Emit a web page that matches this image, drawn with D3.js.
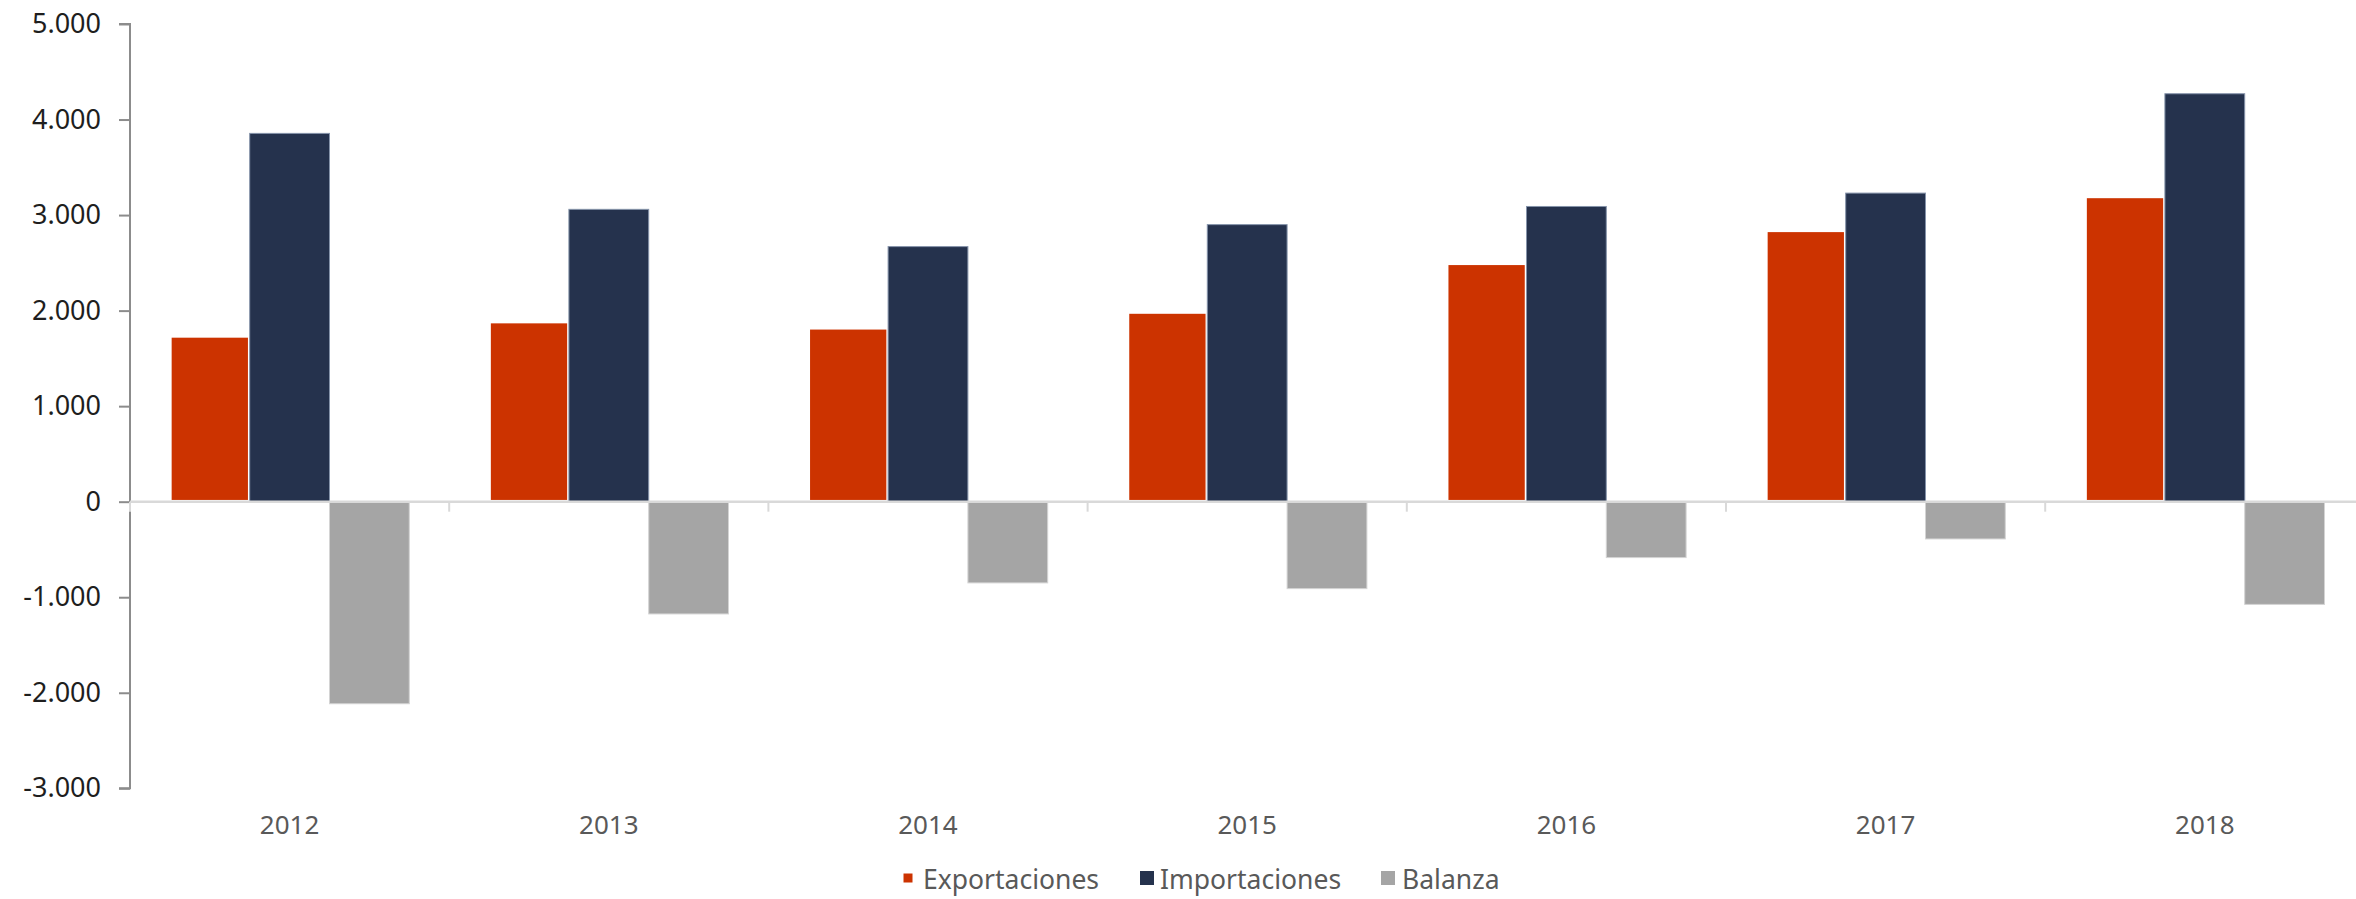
<!DOCTYPE html>
<html lang="es">
<head>
<meta charset="utf-8">
<title>Exportaciones, importaciones y balanza 2012-2018</title>
<script src="https://cdn.jsdelivr.net/npm/d3@7/dist/d3.min.js"></script>
<style>
  html, body { margin: 0; padding: 0; background: #ffffff; }
  svg { display: block; }
  text { font-family: "Noto Sans", "Open Sans", sans-serif; }
</style>
</head>
<body>
<svg id="chart" width="2356" height="899"></svg>
<script>
// Years on the category axis
const years = ["2012", "2013", "2014", "2015", "2016", "2017", "2018"];

// Series values (millions)
const exportaciones = [1735, 1885, 1820, 1985, 2495, 2840, 3195];
const importaciones = [3855, 3060, 2670, 2900, 3090, 3230, 4270];
const balanza       = [-2115, -1175, -850, -910, -585, -390, -1075];

// Series names, in drawing order
const seriesNames = ["Exportaciones", "Importaciones", "Balanza"];

// Value-axis tick labels
const yTicks = [-3000, -2000, -1000, 0, 1000, 2000, 3000, 4000, 5000];

const seriesValues = [exportaciones, importaciones, balanza];

// Visual styling per series
const seriesStyle = {
  Exportaciones: { fill: "#cc3300", stroke: "#ffffff", strokeWidth: 3.5, legendStroke: 2.5 },
  Importaciones: { fill: "#25324d", stroke: "#8593aa", strokeWidth: 1, legendStroke: 0 },
  Balanza:       { fill: "#a5a5a5", stroke: "#d4d4d4", strokeWidth: 1, legendStroke: 0 }
};

const svg = d3.select("#chart");

const plot = { left: 130, top: 24, bottom: 788.3, step: 319.2 };

const x0 = d3.scaleBand()
  .domain(years)
  .range([plot.left, plot.left + plot.step * years.length])
  .paddingInner(0)
  .paddingOuter(0);

const x1 = d3.scaleBand()
  .domain(seriesNames)
  .range([0, x0.bandwidth()])
  .paddingInner(0)
  .paddingOuter(0.5);

const y = d3.scaleLinear()
  .domain([-3000, 5000])
  .range([plot.bottom, plot.top]);

const es = d3.formatLocale({
  decimal: ",", thousands: ".", grouping: [3], currency: ["", " €"], minus: "-"
});
const fmt = es.format(",d");

// Bars
const rows = years.map((yr, i) => ({
  year: yr,
  values: seriesNames.map((s, k) => ({ series: s, value: seriesValues[k][i] }))
}));

const groups = svg.append("g").attr("class", "bars")
  .selectAll("g")
  .data(rows)
  .join("g")
  .attr("transform", d => `translate(${x0(d.year)},0)`);

groups.selectAll("rect")
  .data(d => d.values)
  .join("rect")
  .attr("x", d => x1(d.series))
  .attr("width", x1.bandwidth())
  .attr("y", d => y(Math.max(0, d.value)))
  .attr("height", d => Math.abs(y(d.value) - y(0)))
  .attr("fill", d => seriesStyle[d.series].fill)
  .attr("stroke", d => seriesStyle[d.series].stroke)
  .attr("stroke-width", d => seriesStyle[d.series].strokeWidth);

// Value axis
const yAxis = d3.axisLeft(y)
  .tickValues(yTicks)
  .tickFormat(fmt)
  .tickSize(11)
  .tickPadding(18);

const gy = svg.append("g")
  .attr("transform", `translate(${plot.left},0)`)
  .call(yAxis);

gy.select(".domain")
  .attr("stroke", "#8c8c8c")
  .attr("stroke-width", 2)
  .attr("d", `M-11,${y(5000)}H0V${y(-3000)}H-11`);
gy.selectAll(".tick line")
  .attr("stroke", "#8c8c8c")
  .attr("stroke-width", 2);
gy.selectAll(".tick text")
  .attr("fill", "#1e1e1e")
  .style("font-size", "27px");

// Category axis along zero
const zeroY = y(0);
svg.append("line")
  .attr("x1", plot.left)
  .attr("x2", 2356)
  .attr("y1", zeroY)
  .attr("y2", zeroY)
  .attr("stroke", "#d9d9d9")
  .attr("stroke-width", 2.5);

const boundaries = d3.range(0, years.length).map(i => x0(years[i]));
svg.append("g")
  .selectAll("line")
  .data(boundaries)
  .join("line")
  .attr("x1", d => d)
  .attr("x2", d => d)
  .attr("y1", zeroY)
  .attr("y2", zeroY + 10)
  .attr("stroke", "#d9d9d9")
  .attr("stroke-width", 2);

// Year labels
svg.append("g")
  .selectAll("text")
  .data(years)
  .join("text")
  .attr("x", d => x0(d) + x0.bandwidth() / 2)
  .attr("y", 834)
  .attr("text-anchor", "middle")
  .attr("fill", "#595959")
  .style("font-size", "26px")
  .text(d => d);

// Legend: swatch left edge and label start for each entry
const legendSwatchX = [901, 1140, 1381];
const legendTextX = [923, 1160, 1402];
const legend = svg.append("g")
  .selectAll("g")
  .data(seriesNames)
  .join("g");

legend.append("rect")
  .attr("x", (d, i) => legendSwatchX[i])
  .attr("y", 871)
  .attr("width", 14)
  .attr("height", 14)
  .attr("fill", d => seriesStyle[d].fill)
  .attr("stroke", d => seriesStyle[d].legendStroke ? "#ffffff" : "none")
  .attr("stroke-width", d => seriesStyle[d].legendStroke * 2);

legend.append("text")
  .attr("x", (d, i) => legendTextX[i])
  .attr("y", 889)
  .attr("fill", "#595959")
  .style("font-size", "26.5px")
  .text(d => d);
</script>
</body>
</html>
